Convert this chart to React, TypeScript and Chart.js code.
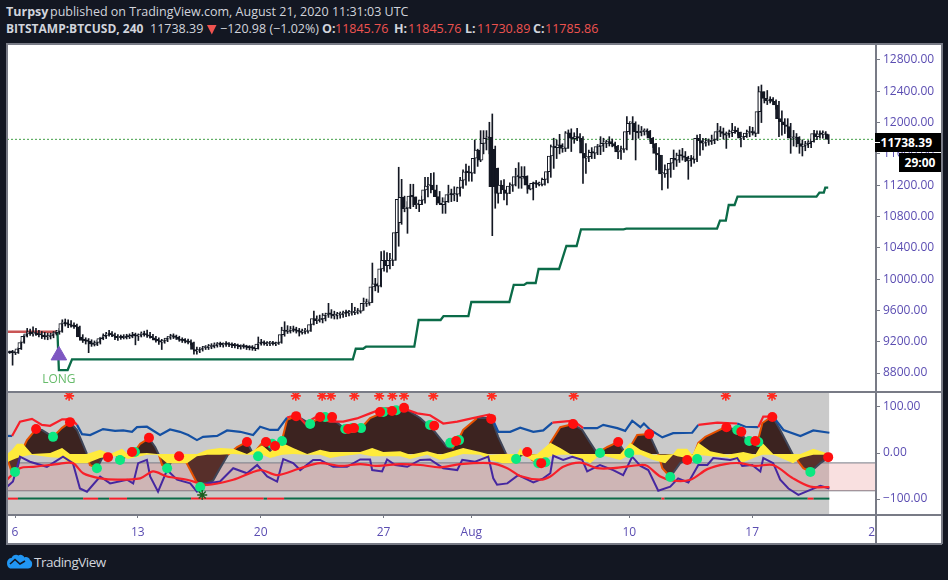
import React, { useEffect, useRef } from "react";
import { Chart, registerables } from "chart.js";

Chart.register(...registerables);

const FONT = '"Open Sans", sans-serif';
const AXIS_TEXT = "#5b4db2";
const FRAME = "#787b86";
const HEADER_TEXT = "#d1d4dc";
const DOWN_RED = "#ef5350";

// ---- price pane (4h bars; bar 0 = 6 July 00:00, bars counted from -3) ----
const firstBar = -3;
const closes = [
  9060, 9065, 9060,
  9055, 9110, 9190, 9270, 9300, 9325,
  9300, 9310, 9290, 9285, 9265, 9260,
  9275, 9300, 9320, 9330, 9430, 9445,
  9425, 9410, 9395, 9390, 9260, 9215,
  9210, 9205, 9170, 9165, 9190, 9240,
  9260, 9280, 9300, 9290, 9270, 9250,
  9255, 9250, 9265, 9260, 9280, 9275,
  9270, 9290, 9295, 9285, 9270, 9250,
  9220, 9210, 9195, 9215, 9245, 9260,
  9265, 9255, 9230, 9215, 9210, 9195,
  9190, 9100, 9080, 9100, 9120, 9125,
  9130, 9135, 9150, 9160, 9165, 9160,
  9170, 9165, 9155, 9150, 9145, 9135,
  9140, 9130, 9125, 9120, 9110, 9170,
  9185, 9180, 9170, 9175, 9180, 9170,
  9190, 9290, 9350, 9330, 9345, 9360,
  9345, 9330, 9320, 9330, 9335, 9420,
  9495, 9470, 9480, 9490, 9540, 9560,
  9550, 9530, 9540, 9545, 9555, 9570,
  9565, 9570, 9575, 9580, 9590, 9690,
  9690, 9695, 9900, 9940, 9910, 10130,
  10240, 10170, 10240, 10240, 10594, 11020,
  11045, 10900, 10905, 11060, 11050, 10950,
  10950, 11010, 11140, 11190, 11200, 11139,
  11054, 10970, 10950, 10990, 11080, 11085,
  11075, 11085, 11170, 11265, 11370, 11360,
  11352, 11544, 11650, 11520, 11735, 11800,
  11812, 11182, 11182, 11096, 11200, 11139,
  11096, 11190, 11200, 11309, 11309, 11290,
  11312, 11200, 11150, 11224, 11215, 11210,
  11210, 11275, 11373, 11573, 11693, 11680,
  11714, 11670, 11670, 11870, 11800, 11795,
  11820, 11800, 11608, 11544, 11565, 11620,
  11610, 11693, 11700, 11735, 11735, 11757,
  11730, 11700, 11625, 11650, 11660, 11885,
  11990, 11990, 11884, 11870, 11884, 11884,
  11890, 11800, 11730, 11607, 11586, 11343,
  11343, 11400, 11480, 11543, 11520, 11585,
  11573, 11555, 11510, 11540, 11530, 11800,
  11770, 11736, 11750, 11755, 11770, 11786,
  11884, 11885, 11860, 11838, 11865, 11870,
  11905, 11880, 11800, 11820, 11865, 11870,
  11885, 11860, 12140, 12395, 12310, 12280,
  12300, 12270, 12225, 12050, 12010, 11970,
  11950, 11800, 11800, 11810, 11730, 11695,
  11710, 11730, 11755, 11860, 11820, 11855,
  11850, 11855, 11785.86,
];
const highs = [
  9075, 9080, 9090,
  9085, 9125, 9210, 9285, 9370, 9360,
  9390, 9370, 9345, 9330, 9320, 9310,
  9310, 9330, 9345, 9370, 9480, 9490,
  9480, 9470, 9440, 9425, 9400, 9290,
  9250, 9240, 9225, 9210, 9220, 9255,
  9300, 9320, 9345, 9330, 9310, 9290,
  9285, 9290, 9295, 9300, 9320, 9310,
  9300, 9325, 9335, 9350, 9320, 9295,
  9270, 9250, 9230, 9240, 9265, 9295,
  9300, 9285, 9270, 9250, 9240, 9235,
  9225, 9195, 9130, 9125, 9140, 9150,
  9165, 9175, 9185, 9190, 9195, 9185,
  9200, 9190, 9185, 9180, 9170, 9160,
  9170, 9155, 9150, 9150, 9145, 9260,
  9230, 9210, 9200, 9205, 9205, 9195,
  9215, 9385, 9455, 9405, 9395, 9400,
  9385, 9370, 9360, 9370, 9355, 9460,
  9590, 9530, 9540, 9560, 9565, 9690,
  9610, 9590, 9575, 9580, 9590, 9605,
  9600, 9690, 9640, 9625, 9610, 9758,
  9745, 9735, 10205, 10010, 9950, 10350,
  10360, 10340, 10330, 10460, 10610, 11429,
  11275, 11060, 10990, 11212, 11212, 11050,
  11010, 11060, 11300, 11300, 11352, 11360,
  11200, 11120, 11040, 11040, 11200, 11150,
  11180, 11175, 11300, 11395, 11471, 11445,
  11420, 11778, 11660, 11897, 11897, 11897,
  12004, 12110, 11700, 11420, 11260, 11270,
  11160, 11230, 11240, 11416, 11488, 11437,
  11437, 11320, 11220, 11240, 11260, 11240,
  11290, 11345, 11458, 11714, 11800, 11778,
  11850, 11730, 11885, 11906, 11920, 11870,
  11927, 11860, 11820, 11730, 11650, 11680,
  11660, 11720, 11820, 11800, 11775, 11820,
  11790, 11750, 11710, 11700, 11690, 12076,
  12010, 12076, 12010, 11970, 11950, 11920,
  11920, 11900, 11810, 11735, 11680, 11580,
  11460, 11450, 11540, 11650, 11610, 11650,
  11670, 11630, 11570, 11580, 11570, 11840,
  11850, 11800, 11800, 11790, 11840, 11855,
  11990, 11950, 11930, 11880, 11905, 11990,
  11950, 11930, 11880, 11860, 11905, 11950,
  11940, 11900, 12460, 12480, 12395, 12410,
  12330, 12320, 12290, 12270, 12150, 12050,
  12050, 11990, 11900, 11860, 11820, 11780,
  11760, 11770, 11790, 11900, 11895, 11895,
  11895, 11885, 11845.76,
];
const lows = [
  9045, 9050, 8900,
  9035, 9050, 9100, 9180, 9260, 9280,
  9270, 9280, 9260, 9240, 9230, 9225,
  9235, 9250, 9285, 9295, 9320, 9400,
  9380, 9385, 9370, 9360, 9230, 9190,
  9170, 9060, 9140, 9145, 9150, 9170,
  9225, 9240, 9270, 9265, 9225, 9215,
  9230, 9235, 9235, 9240, 9250, 9160,
  9215, 9260, 9270, 9255, 9245, 9225,
  9195, 9165, 9100, 9180, 9200, 9230,
  9240, 9230, 9205, 9190, 9185, 9170,
  9160, 9040, 9040, 9060, 9080, 9100,
  9100, 9110, 9120, 9130, 9135, 9130,
  9140, 9135, 9125, 9120, 9110, 9105,
  9115, 9100, 9095, 9090, 9085, 9105,
  9155, 9155, 9150, 9150, 9155, 9150,
  9165, 9180, 9270, 9305, 9310, 9325,
  9310, 9272, 9295, 9300, 9310, 9330,
  9415, 9430, 9450, 9440, 9465, 9510,
  9500, 9490, 9490, 9500, 9510, 9520,
  9530, 9540, 9545, 9555, 9565, 9600,
  9650, 9665, 9700, 9850, 9830, 9900,
  10100, 10090, 10130, 10170, 10240, 10420,
  10700, 10860, 10585, 10900, 10925, 10900,
  10862, 10950, 10970, 11050, 11100, 11090,
  10950, 10965, 10840, 10840, 10980, 10990,
  11000, 10990, 11060, 11160, 11200, 11250,
  11250, 11350, 11440, 11500, 11600, 11650,
  11600, 10555, 10905, 10969, 11090, 11011,
  10947, 11090, 11120, 11190, 11160, 11160,
  11280, 11096, 11140, 11011, 11170, 11190,
  11190, 11200, 11230, 11300, 11415, 11540,
  11600, 11620, 11630, 11670, 11630, 11735,
  11770, 11760, 11224, 11350, 11500, 11540,
  11540, 11590, 11590, 11630, 11680, 11700,
  11690, 11670, 11540, 11530, 11620, 11650,
  11850, 11780, 11522, 11800, 11830, 11840,
  11850, 11760, 11680, 11394, 11394, 11138,
  11300, 11160, 11300, 11400, 11440, 11490,
  11520, 11500, 11275, 11440, 11480, 11500,
  11580, 11650, 11700, 11710, 11720, 11730,
  11770, 11820, 11790, 11670, 11810, 11820,
  11860, 11840, 11690, 11780, 11810, 11820,
  11840, 11820, 11860, 12000, 12250, 12230,
  12250, 12230, 12170, 11820, 11840, 11860,
  11880, 11607, 11700, 11690, 11607, 11573,
  11640, 11680, 11680, 11750, 11780, 11800,
  11800, 11810, 11730.89,
];
// bars whose open differs visibly from the previous close: [bar, open]
const openFixes: [number, number][] = [
  [132, 10720],
  [164, 11659],
  [165, 11416],
];

const priceTicks = [8800, 9200, 9600, 10000, 10400, 10800, 11200, 11600, 12000, 12400, 12800];
const lastClose = 11785.86;

const trailBars = [14.5, 15, 18, 19.5, 115.5, 116.5, 119, 120, 136.5, 138, 145.5, 146.5, 155, 156, 169, 170.5, 174, 175, 178, 179, 186, 188.5, 192, 193.5, 208, 209, 240, 241, 243, 244, 246, 247, 274, 275, 276.5, 277, 278];
const trailStop = [9337, 8838, 8838, 8975, 8975, 9110, 9110, 9136, 9136, 9477, 9477, 9528, 9528, 9707, 9707, 9925, 9925, 9950, 9950, 10129, 10129, 10423, 10423, 10636, 10636, 10644, 10644, 10746, 10746, 10947, 10947, 11053, 11053, 11104, 11104, 11168, 11168];
const shortStopBars = [-2.7, 14.3];
const shortStop = [9328, 9328];
const longEntryBar = 15;
const longEntryPrice = 9025;
const longLabelPrice = 8717;

// ---- oscillator pane ----
const humpBars = [-2.7, -1, 1, 2, 4.1, 7.2, 9.2, 13, 16, 18.8, 21.2, 24.6, 25.6, 28, 30, 31.8, 34.2, 35.9, 37.6, 39.3, 41, 42.8, 45.8, 47.9, 49.2, 50.3, 52, 54, 56, 58.1, 59.9, 62.2, 65.7, 67.7, 70.1, 72.8, 75.9, 79.3, 81.4, 84.5, 85.8, 87.9, 89.6, 91.3, 93, 96.4, 100.9, 104.3, 107.7, 112.9, 118, 121.4, 125.9, 130, 133, 138.5, 143, 147.7, 149.5, 151.5, 153.2, 158, 162.8, 165.2, 167.9, 170, 171.7, 175.1, 176.8, 178.9, 181.3, 183, 186.4, 190.8, 193.9, 196.7, 199, 202.5, 206.2, 208.6, 210.3, 212.7, 216.8, 219.9, 221.3, 224, 227.4, 229.8, 231.5, 233.6, 236, 242.8, 246.9, 250.7, 253.8, 255.5, 258.9, 261.6, 266, 269.5, 271.9, 275.3, 278.4];
const humpValues = [-12, -43, -30, 0, 28, 52, 50, 35, 54, 67, 50, -2, -26, -33, -9, -9, -2, -15, -9, 2, 4, 20, 32, 13, -4, -26, -32, -15, -6, -15, -37, -65, -65, -60, -33, -4, 13, 24, -2, 22, 24, 0, 11, 28, 72, 80, 63, 78, 78, 52, 52, 76, 88, 93, 98, 76, 50, 13, 10, 28, 50, 76, 76, 35, -2, -15, -10, 2, -15, -22, -15, 22, 56, 63, 50, 22, 0, 13, 24, 0, 13, 39, 41, -2, -33, -52, -22, -15, -14, 22, 35, 56, 50, 24, 22, 65, 80, 50, -4, -33, -41, -22, -9];

const yellowBars = [-2.7, -1, 0.7, 2.7, 5.8, 12, 16.1, 18.8, 24.6, 29.1, 32.5, 36.6, 38.6, 45.1, 48.6, 52, 58.8, 62.2, 65.7, 70.1, 74.6, 79.3, 84.5, 87.2, 91.3, 95.1, 99.9, 104.3, 107.7, 111.2, 118, 122.1, 125.9, 131.7, 135.1, 140.9, 145.4, 153.2, 159, 162.5, 166.6, 171.7, 172.7, 174.4, 178.5, 183, 186.4, 189.8, 196.7, 200, 206.9, 210.3, 213.8, 218.2, 222.3, 225, 226.4, 229.8, 231.5, 233.6, 237.7, 243.5, 249, 253.1, 255.5, 259.2, 266, 268.5, 272.9, 278.4];
const yellowTop = [-2, 7, 20, 20, -2, 0, 11, -2, -2, 7, -2, 9, -2, 0, -2, -2, -2, -2, 7, 11, 9, -2, 17, 2, 22, 11, -2, 7, 2, 2, 2, 11, 2, 4, -4, 4, -4, 11, 2, -4, -2, -2, 11, -4, -2, 22, 11, -2, -2, -2, -2, 22, 7, -4, -4, -2, 9, 9, -4, 22, 4, -4, 2, -4, 22, -2, -2, -2, 9, -2];
const yellowBottom = [-20, -15, -11, -7, -4, -9, -11, -22, -22, -11, -7, -7, -13, -4, -4, -22, -22, -7, -4, -4, -2, -4, -4, -11, -4, -2, -4, -4, -11, -7, -2, -7, -7, -7, -13, -4, -15, -2, -4, -15, -22, -22, -4, -7, -22, -7, -4, -4, -22, -4, -15, -4, -4, -15, -22, -4, -7, -11, -15, -4, -7, -9, -20, -9, -4, -4, -22, -11, -4, -4];

const fastBars = [-2.7, -1, 1.7, 5.8, 9.2, 12, 16.1, 19.5, 21.2, 22.9, 25.7, 30.1, 34.2, 37, 40, 41.7, 45.1, 49.6, 53, 56.4, 59.2, 62.2, 64.3, 69.1, 72.5, 77, 81.4, 83.8, 87.2, 89.9, 93, 96.4, 99.2, 102.6, 107.7, 112.2, 116.9, 121.4, 125.9, 132.7, 137.5, 141.9, 146.4, 151.2, 154.6, 162.5, 165.2, 169.3, 172.7, 177.2, 180.6, 183.7, 187.4, 190.8, 194.3, 199, 201.1, 205.9, 208.6, 211, 213.8, 215, 217.2, 221.3, 225, 231.5, 233.6, 240.1, 246.9, 249.7, 254.1, 255.8, 259.2, 262.7, 268.5, 272.9, 278.4];
const fastValues = [37, 37, 68, 74, 61, 59, 73, 73, 61, 41, 39, 52, 48, 49, 46, 56, 57, 39, 51, 46, 39, 28, 35, 37, 49, 46, 39, 57, 50, 50, 77, 83, 64, 77, 68, 68, 75, 86, 97, 97, 86, 82, 64, 68, 73, 84, 46, 46, 55, 46, 49, 66, 68, 70, 54, 54, 61, 54, 48, 70, 56, 64, 50, 34, 43, 44, 61, 66, 64, 57, 56, 79, 79, 50, 37, 49, 44];
const fastRedFrom = [-1, 93, 183.7, 233.6, 254.1];
const fastRedTo = [21.2, 162.5, 194.3, 246.9, 259.2];

const purpleBars = [-2.7, -0.7, 1.7, 5.1, 10.9, 16.4, 19.8, 22.2, 24.6, 29.1, 32.5, 38.3, 40.4, 42.1, 45.1, 46.2, 48.9, 52, 55.4, 59.9, 62.2, 65.7, 70.1, 74.6, 79.3, 82.8, 86.2, 89.6, 91.7, 95.1, 97.5, 101.9, 104.3, 108.8, 113.5, 118, 121.4, 122.1, 125.5, 127.2, 130, 134.1, 138.5, 141.9, 146.4, 151.2, 152.9, 157.3, 161.8, 163.5, 164.8, 168.3, 172, 177.2, 180.6, 183, 184, 187.4, 190.5, 193.9, 195.6, 200, 204.5, 207.9, 211, 213.8, 216.5, 219.9, 224, 226.7, 230.2, 233.6, 236.7, 238.7, 244.5, 246.9, 248.6, 252, 254.8, 255.8, 259.2, 261.6, 264.4, 267.8, 271.9, 275.3, 278.4];
const purpleValues = [-73, -62, -8, -19, -30, -8, -22, -77, -84, -51, -66, -58, -66, -22, -15, -51, -84, -37, -58, -66, -84, -66, -62, -33, -44, -26, -51, -62, -13, -22, -37, -15, -15, -30, -30, -14, -14, -37, -40, -14, -26, -30, -15, -14, -33, -37, -15, -19, -8, -55, -69, -66, -48, -64, -55, -44, -6, -15, -8, -15, -40, -26, -37, -48, -8, -28, -37, -82, -73, -55, -64, -26, -26, -11, -15, -11, -28, -26, -40, -11, -22, -58, -77, -91, -80, -71, -77];

const slowBars = [-2.7, 1.7, 6.2, 14.4, 19.8, 23.3, 29.1, 34.9, 42.8, 47.2, 52, 58.8, 65.7, 74.6, 83.8, 89.6, 97.5, 104.3, 111.2, 118, 123.8, 131.7, 138.5, 145.4, 152.2, 162.5, 168.3, 172.7, 179.6, 183, 187.4, 193.2, 199, 204.5, 213.8, 216.1, 220.6, 225, 230.9, 236.7, 242.8, 247.9, 253, 259.2, 266, 271.9, 278.4];
const slowValues = [-58, -33, -30, -24, -22, -44, -55, -58, -55, -40, -51, -58, -69, -58, -37, -48, -33, -22, -28, -24, -28, -24, -26, -31, -24, -22, -33, -50, -58, -51, -30, -21, -33, -33, -26, -28, -51, -60, -58, -35, -24, -22, -28, -26, -55, -73, -74];

const redDotBars = [7.2, 18.8, 31.8, 40, 45.8, 56.1, 79.3, 85.8, 88.9, 96.1, 104.3, 108.4, 113.9, 115.9, 124.8, 128.9, 133, 143.3, 150.8, 162.8, 175.1, 179.9, 190.8, 206.2, 216.8, 229.8, 243.2, 248.3, 253.1, 258.9, 278];
const redDotValues = [52, 67, -9, 2, 33, -7, 24, 24, 15, 80, 78, 78, 52, 54, 89, 91, 98, 59, 26, 74, 2, -22, 63, 24, 41, -15, 56, 46, 26, 78, -9];
const greenDotBars = [0, 13, 28, 35.9, 41, 52, 63.3, 83.1, 87.9, 91.3, 100.9, 106, 112.9, 115.3, 118.3, 125.9, 130.3, 141.9, 148.8, 151.8, 171.3, 178.9, 181.3, 200, 210, 224, 233.2, 246.9, 251, 254.1, 271.9];
const greenDotValues = [-41, 35, -33, -15, 2, -33, -74, -7, 20, 26, 63, 78, 52, 54, 54, 89, 93, 61, 22, 28, -13, -22, -20, 0, 0, -52, -13, 50, 26, 24, -41];

const starBars = [18.5, 96, 105, 108, 116, 124.5, 129, 133, 143, 163, 191, 243, 258.8];
const starLevel = 124;
const greenStarBars = [64];
const greenStarLevel = -91;

const bottomBars = [-2.7, 1, 23.3, 28.4, 32.2, 38.3, 60.2, 85, 86.2, 92, 221, 222, 271, 273, 278.4];
const bottomIsRed = [true, false, true, false, true, false, true, false, true, false, true, false, true, false];
const bottomLevel = -99;

const bandHigh = -21.5;
const bandLow = -82;
const paneTop = 132.4;
const paneBottom = -132.4;
const oscTicks = [-100, 0, 100];

// ---- time axis ----
const timeTickBars = [0, 42, 84, 126, 156, 210, 252, 294];
const timeTickLabels = ["6", "13", "20", "27", "Aug", "10", "17", "24"];
const viewStart = -2.735;
const viewEnd = 294;
const lastBar = 278.4;

const pts = (xs: number[], ys: number[]) => xs.map((x, i) => ({ x, y: ys[i] }));
const flat = (xs: number[], y: number) => xs.map((x) => ({ x, y }));

const candleBars = closes.map((_, i) => firstBar + i);
const opens = closes.map((_, i) => {
  const fix = openFixes.find((f) => f[0] === firstBar + i);
  if (fix) return fix[1];
  return i === 0 ? closes[0] - 5 : closes[i - 1];
});

const longLabelPlugin = {
  id: "longLabel",
  afterDatasetsDraw(chart: any) {
    const { ctx, scales } = chart;
    ctx.save();
    ctx.font = `12px ${FONT}`;
    ctx.fillStyle = "#66bb6a";
    ctx.textAlign = "center";
    ctx.textBaseline = "middle";
    ctx.fillText("LONG", scales.x.getPixelForValue(longEntryBar), scales.y.getPixelForValue(longLabelPrice));
    ctx.restore();
  },
};

// the pane fills its canvas from the very top-left to the two axes
const PLOT_WIDTH = 868;
const fullPanePlugin = (plotHeight: number) => ({
  id: "fullPane",
  afterLayout(chart: any) {
    const area = chart.chartArea;
    area.left = 0;
    area.right = PLOT_WIDTH;
    area.width = PLOT_WIDTH;
    area.top = 0;
    area.bottom = plotHeight;
    area.height = plotHeight;
    const { x, y } = chart.scales;
    x.left = 0;
    x.right = PLOT_WIDTH;
    x.width = PLOT_WIDTH;
    x.configure();
    y.left = PLOT_WIDTH;
    y.right = PLOT_WIDTH + 66;
    y.top = 0;
    y.bottom = plotHeight;
    y.height = plotHeight;
    y.configure();
  },
});

function makeTopChart(canvas: HTMLCanvasElement) {
  return new Chart(canvas, {
    type: "bar",
    data: {
      datasets: [
        {
          type: "scatter",
          label: "entry",
          data: [{ x: longEntryBar, y: longEntryPrice }],
          pointStyle: "triangle",
          pointRadius: 9,
          backgroundColor: "#7e57c2",
          borderColor: "#7e57c2",
          order: 0,
        },
        {
          type: "bar",
          label: "body",
          data: candleBars.map((x, i) => ({ x, y: [opens[i], closes[i]] })),
          barThickness: 3,
          minBarLength: 1.5,
          borderWidth: 1,
          borderSkipped: false,
          borderColor: "#131722",
          backgroundColor: closes.map((c, i) => (c >= opens[i] ? "#ffffff" : "#131722")),
          order: 1,
        },
        {
          type: "bar",
          label: "wick",
          data: candleBars.map((x, i) => ({ x, y: [lows[i], highs[i]] })),
          barThickness: 1,
          backgroundColor: "#131722",
          order: 2,
        },
        {
          type: "line",
          label: "trail",
          data: pts(trailBars, trailStop),
          borderColor: "#0b6b48",
          borderWidth: 2.3,
          pointRadius: 0,
          order: 3,
        },
        {
          type: "line",
          label: "stop",
          data: pts(shortStopBars, shortStop),
          borderColor: "rgba(183,28,28,0.75)",
          borderWidth: 2.5,
          pointRadius: 0,
          order: 3,
        },
        {
          type: "line",
          label: "last",
          data: [
            { x: viewStart, y: lastClose },
            { x: viewEnd, y: lastClose },
          ],
          borderColor: "#43a047",
          borderWidth: 1,
          borderDash: [2, 2],
          pointRadius: 0,
          order: 4,
        },
      ] as any,
    },
    options: {
      animation: false,
      responsive: false,
      layout: { padding: 0, autoPadding: false },
      plugins: { legend: { display: false }, tooltip: { enabled: false } },
      scales: {
        x: { type: "linear", min: viewStart, max: viewEnd, offset: false, display: false },
        y: {
          position: "right",
          min: 8570,
          max: 13004,
          afterFit: (s: any) => {
            s.width = 66;
          },
          afterBuildTicks: (s: any) => {
            s.ticks = priceTicks.map((value) => ({ value }));
          },
          grid: { drawOnChartArea: false, drawTicks: true, tickLength: 5, tickColor: FRAME },
          border: { display: false },
          ticks: {
            crossAlign: "near",
            padding: 3,
            color: AXIS_TEXT,
            font: { family: FONT, size: 12 },
            callback: (v: any) => Number(v).toFixed(2),
          },
        },
      },
    } as any,
    plugins: [fullPanePlugin(347), longLabelPlugin],
  });
}

function makeBottomChart(canvas: HTMLCanvasElement) {
  const isFastRed = (a: number) => fastRedFrom.some((f, i) => a >= f && a < fastRedTo[i]);
  return new Chart(canvas, {
    type: "line",
    data: {
      datasets: [
        {
          type: "scatter",
          label: "stars",
          data: flat(starBars, starLevel),
          pointStyle: "star",
          pointRadius: 5,
          borderWidth: 1.6,
          borderColor: "#ff2a1f",
          backgroundColor: "#ff2a1f",
          order: 0,
        },
        {
          type: "scatter",
          label: "green star",
          data: flat(greenStarBars, greenStarLevel),
          pointStyle: "star",
          pointRadius: 5,
          borderWidth: 1.4,
          borderColor: "#1b5e20",
          order: 0,
        },
        {
          type: "scatter",
          label: "red dots",
          data: pts(redDotBars, redDotValues),
          pointRadius: 5,
          borderWidth: 0,
          backgroundColor: "#ff0f0f",
          order: 1,
        },
        {
          type: "scatter",
          label: "green dots",
          data: pts(greenDotBars, greenDotValues),
          pointRadius: 5,
          borderWidth: 0,
          backgroundColor: "#0be881",
          order: 2,
        },
        {
          label: "slow",
          data: pts(slowBars, slowValues),
          borderColor: "#f7202a",
          borderWidth: 2.2,
          tension: 0.3,
          pointRadius: 0,
          order: 3,
        },
        {
          label: "purple",
          data: pts(purpleBars, purpleValues),
          borderColor: "#4527a0",
          borderWidth: 2,
          pointRadius: 0,
          order: 4,
        },
        {
          label: "fast",
          data: pts(fastBars, fastValues),
          borderWidth: 2.2,
          borderColor: "#1450a3",
          pointRadius: 0,
          segment: {
            borderColor: (c: any) => (isFastRed(c.p0.parsed.x) ? "#f7202a" : "#1450a3"),
          },
          order: 5,
        },
        {
          label: "yellow top",
          data: pts(yellowBars, yellowTop),
          borderWidth: 0,
          pointRadius: 0,
          backgroundColor: "#ffeb3b",
          fill: "+1",
          order: 6,
        },
        {
          label: "yellow bottom",
          data: pts(yellowBars, yellowBottom),
          borderWidth: 0,
          pointRadius: 0,
          order: 6.5,
        },
        {
          label: "momentum edge",
          data: pts(humpBars, humpValues),
          borderWidth: 2,
          pointRadius: 0,
          segment: {
            borderColor: (c: any) =>
              Math.abs(c.p1.parsed.y) > Math.abs(c.p0.parsed.y) ? "#e65100" : "#3f4558",
          },
          order: 7,
        },
        {
          label: "momentum",
          data: pts(humpBars, humpValues),
          borderWidth: 0,
          pointRadius: 0,
          fill: { target: { value: -2 }, above: "#3c2320", below: "#572f2a" },
          order: 7.5,
        },
        {
          label: "bottom markers",
          data: bottomBars.map((x) => ({ x, y: bottomLevel })),
          borderWidth: 2,
          pointRadius: 0,
          borderColor: "#0b6b48",
          segment: {
            borderColor: (c: any) => (bottomIsRed[c.p0DataIndex] ? "#f7202a" : "#0b6b48"),
          },
          order: 8,
        },
        {
          label: "band",
          data: [
            { x: viewStart, y: bandHigh },
            { x: viewEnd, y: bandHigh },
          ],
          borderWidth: 1,
          borderColor: FRAME,
          pointRadius: 0,
          backgroundColor: "rgba(224,100,100,0.2)",
          fill: "+1",
          order: 9,
        },
        {
          label: "band low",
          data: [
            { x: viewStart, y: bandLow },
            { x: viewEnd, y: bandLow },
          ],
          borderWidth: 1,
          borderColor: FRAME,
          pointRadius: 0,
          order: 9.5,
        },
        {
          label: "background",
          data: [
            { x: viewStart, y: paneTop },
            { x: lastBar, y: paneTop },
          ],
          borderWidth: 0,
          pointRadius: 0,
          backgroundColor: "#cacaca",
          fill: { target: { value: paneBottom } },
          order: 10,
        },
      ] as any,
    },
    options: {
      animation: false,
      responsive: false,
      layout: { padding: 0, autoPadding: false },
      plugins: { legend: { display: false }, tooltip: { enabled: false } },
      scales: {
        x: {
          type: "linear",
          min: viewStart,
          max: viewEnd,
          afterFit: (s: any) => {
            s.height = 29;
          },
          afterBuildTicks: (s: any) => {
            s.ticks = timeTickBars.map((value) => ({ value }));
          },
          grid: { drawOnChartArea: false, tickLength: 4, tickColor: FRAME },
          border: { display: false },
          ticks: {
            autoSkip: false,
            maxRotation: 0,
            padding: 7,
            color: AXIS_TEXT,
            font: { family: FONT, size: 12 },
            callback: (v: any) => timeTickLabels[timeTickBars.indexOf(Number(v))],
          },
        },
        y: {
          position: "right",
          min: paneBottom,
          max: paneTop,
          afterFit: (s: any) => {
            s.width = 66;
          },
          afterBuildTicks: (s: any) => {
            s.ticks = oscTicks.map((value) => ({ value }));
          },
          grid: { drawOnChartArea: false, tickLength: 5, tickColor: FRAME },
          border: { display: false },
          ticks: {
            crossAlign: "near",
            padding: 3,
            color: AXIS_TEXT,
            font: { family: FONT, size: 12 },
            callback: (v: any) => Number(v).toFixed(2).replace("-", "\u2212"),
          },
        },
      },
    } as any,
    plugins: [fullPanePlugin(122)],
  });
}

const abs = (left: number, top: number, style: React.CSSProperties = {}): React.CSSProperties => ({
  position: "absolute",
  left,
  top,
  whiteSpace: "nowrap",
  ...style,
});

const Txt = ({ x, y, color = HEADER_TEXT, bold = false, size = 12.5, children }: any) => (
  <span style={abs(x, y, { color, fontWeight: bold ? 700 : 400, fontSize: size, lineHeight: "16px" })}>{children}</span>
);

export default function App() {
  const topRef = useRef<HTMLCanvasElement>(null);
  const bottomRef = useRef<HTMLCanvasElement>(null);

  useEffect(() => {
    const a = makeTopChart(topRef.current!);
    const b = makeBottomChart(bottomRef.current!);
    return () => {
      a.destroy();
      b.destroy();
    };
  }, []);

  const line = (left: number, top: number, width: number, height: number) => (
    <div style={abs(left, top, { width, height, background: FRAME })} />
  );

  return (
    <div style={abs(0, 0, { width: 948, height: 580, background: "#131722", overflow: "hidden", fontFamily: FONT })}>
      <Txt x={6} y={4} bold>Turpsy</Txt>
      <Txt x={50} y={4}>published on TradingView.com, August 21, 2020 11:31:03 UTC</Txt>
      <Txt x={6} y={21} bold size={12}>BITSTAMP:BTCUSD, 240</Txt>
      <Txt x={150} y={21}>11738.39</Txt>
      <svg style={abs(207, 25)} width="10" height="10"><path d="M0 0H9.5L4.8 9.5Z" fill={DOWN_RED} /></svg>
      <Txt x={220} y={21}>{"\u2212120.98 (\u22121.02%)"}</Txt>
      <Txt x={322} y={21} bold>O:</Txt>
      <Txt x={335} y={21} color={DOWN_RED}>11845.76</Txt>
      <Txt x={394} y={21} bold>H:</Txt>
      <Txt x={408} y={21} color={DOWN_RED}>11845.76</Txt>
      <Txt x={465} y={21} bold>L:</Txt>
      <Txt x={477} y={21} color={DOWN_RED}>11730.89</Txt>
      <Txt x={533} y={21} bold>C:</Txt>
      <Txt x={545} y={21} color={DOWN_RED}>11785.86</Txt>

      <div style={abs(7, 44, { width: 934, height: 499, background: "#ffffff" })} />
      <canvas ref={topRef} width={934} height={347} style={abs(7, 44, { display: "block" })} />
      <canvas ref={bottomRef} width={934} height={151} style={abs(7, 392, { display: "block" })} />
      <div style={abs(875, 515, { width: 66, height: 28, background: "#ffffff" })} />

      {line(6, 43, 936, 1.5)}
      {line(6, 543, 936, 1.5)}
      {line(6, 43, 1.5, 501)}
      {line(941, 43, 1.5, 501)}
      {line(875, 43, 1.5, 501)}
      {line(6, 391, 936, 1.5)}
      {line(6, 514, 936, 1.5)}

      <div style={abs(875, 133, { width: 66, height: 19, background: "#000", color: "#fff", fontWeight: 700, fontSize: 12, lineHeight: "19px", textAlign: "right", paddingRight: 9, boxSizing: "border-box" })}>
        11738.39
      </div>
      <div style={abs(875, 141.5, { width: 5, height: 1, background: "#fff" })} />
      <div style={abs(899, 153, { width: 42, height: 19, background: "#000", color: "#fff", fontWeight: 700, fontSize: 12, lineHeight: "19px", textAlign: "center" })}>
        29:00
      </div>

      <svg style={abs(6, 553)} width="27" height="16" viewBox="0 0 27 16">
        <path d="M1 10C1 7 3 5 5.5 5C7 2 10 1 12.5 2.5C14.5 1 17 2 18.5 4.5C20 3.5 23 4 24 7C26 8 26.5 10 26 12.5C25.5 14.5 24 15.5 22 15.5H5C2.5 15.5 1 13 1 10Z" fill="#2196f3" />
        <path d="M4 11L9 6.5L14 11L19 8" stroke="#131722" strokeWidth="1.6" fill="none" />
      </svg>
      <span style={abs(34, 552, { color: "#d1d4dc", fontSize: 13.5, letterSpacing: "-0.5px", lineHeight: "20px" })}>TradingView</span>
    </div>
  );
}
